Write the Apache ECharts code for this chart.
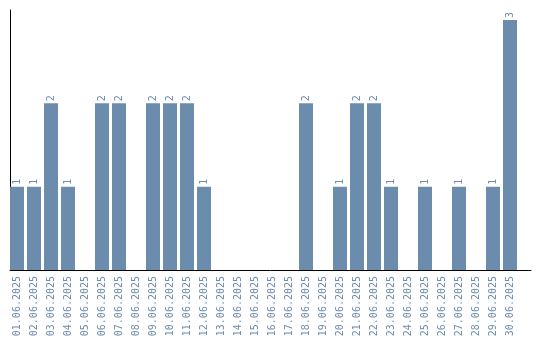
<!DOCTYPE html>
<html><head><meta charset="utf-8">
<script src="https://cdn.jsdelivr.net/npm/echarts@6/dist/echarts.min.js"></script>
<style>html,body{margin:0;padding:0;background:#fff}#c{width:540px;height:340px}</style>
</head><body><div id="c"></div>
<script>
var categories = ["01.06.2025","02.06.2025","03.06.2025","04.06.2025","05.06.2025","06.06.2025","07.06.2025","08.06.2025","09.06.2025","10.06.2025","11.06.2025","12.06.2025","13.06.2025","14.06.2025","15.06.2025","16.06.2025","17.06.2025","18.06.2025","19.06.2025","20.06.2025","21.06.2025","22.06.2025","23.06.2025","24.06.2025","25.06.2025","26.06.2025","27.06.2025","28.06.2025","29.06.2025","30.06.2025"];
var values = [1,1,2,1,0,2,2,0,2,2,2,1,0,0,0,0,0,2,0,1,2,2,1,0,1,0,1,0,1,3];
var barColor = '#6b8cac';
var textColor = '#6e8cac';
var chart = echarts.init(document.getElementById('c'), null, {renderer:'canvas'});
chart.setOption({
  animation:false,
  grid:[
    {left:8.5, width:510, top:20, bottom:70, containLabel:false},
    {left:10, right:9, top:10, bottom:70, containLabel:false}
  ],
  xAxis:[
    {type:'category', gridIndex:0, data:categories, boundaryGap:true,
     axisLine:{show:false}, axisTick:{show:false},
     axisLabel:{rotate:90, interval:0, margin:6, color:textColor, fontFamily:'DejaVu Sans Mono', fontSize:10}},
    {type:'value', gridIndex:1, min:0, max:1, axisLine:{show:true, lineStyle:{color:'#000', width:1}}, axisTick:{show:false}, axisLabel:{show:false}, splitLine:{show:false}}
  ],
  yAxis:[
    {type:'value', gridIndex:0, min:0, max:3, axisLine:{show:false}, axisTick:{show:false}, axisLabel:{show:false}, splitLine:{show:false}},
    {type:'value', gridIndex:1, min:0, max:1, axisLine:{show:true, lineStyle:{color:'#000', width:1}}, axisTick:{show:false}, axisLabel:{show:false}, splitLine:{show:false}}
  ],
  series:[{
    type:'bar', xAxisIndex:0, yAxisIndex:0, data:values, barWidth:14,
    itemStyle:{color:barColor},
    label:{show:true, position:'top', rotate:90, align:'left', verticalAlign:'middle', distance:2,
      color:textColor, fontFamily:'DejaVu Sans Mono', fontSize:10,
      formatter:function(p){return p.value>0?String(p.value):'';}}
  }]
});
</script></body></html>
